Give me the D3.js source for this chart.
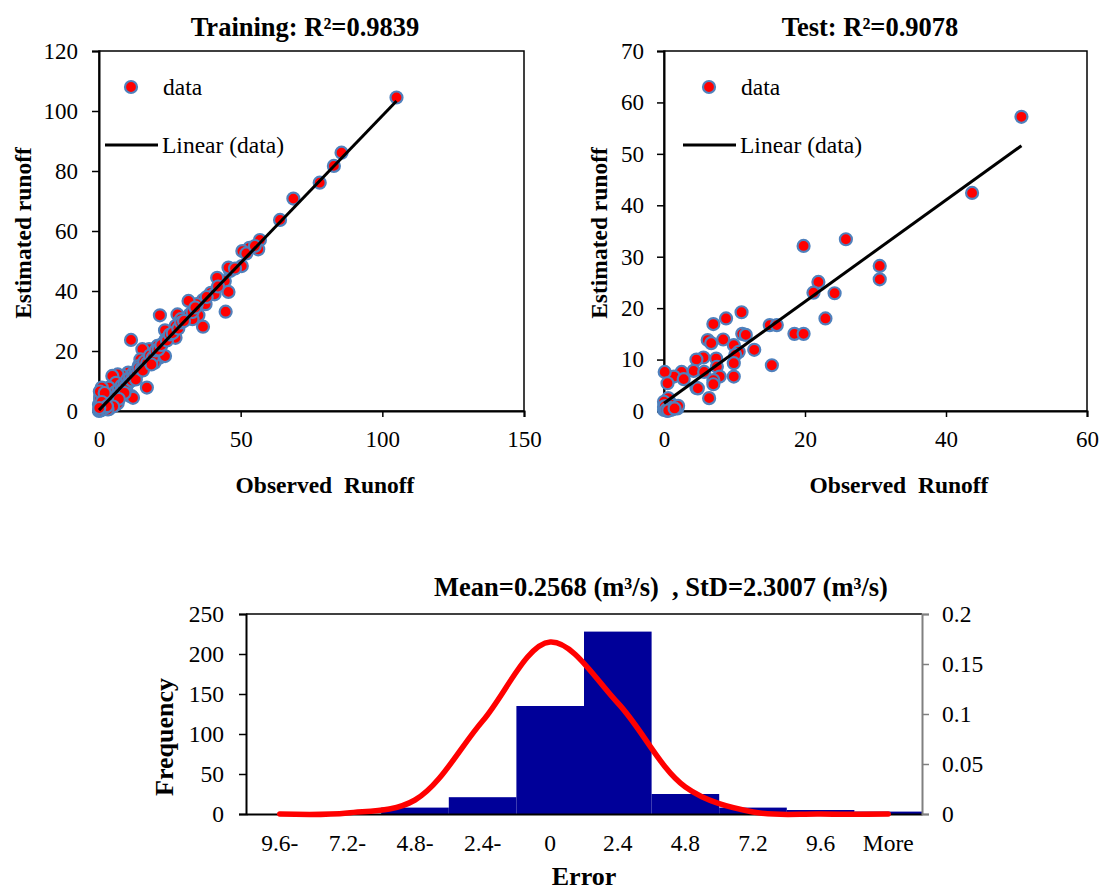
<!DOCTYPE html>
<html>
<head>
<meta charset="utf-8">
<script src="https://cdn.jsdelivr.net/npm/d3@7"></script>
<style>
  body { margin: 0; background: #fff; }
  svg { display: block; font-family: "Liberation Serif", "Times New Roman", serif; }
</style>
</head>
<body>
<svg id="chart" width="1106" height="890"></svg>
<script>
// training set: observed vs estimated runoff
const trainObs = [105, 85.6, 82.9, 77.9, 68.6, 63.9, 56.8, 56.2, 53.1, 50.6, 50.4, 46.3, 45.7, 44.4, 41.7, 45.7, 44.7,
  39.5, 40.8, 36.7, 37.6, 34.5, 35.1, 36.7, 31.6, 32, 33, 27.7, 28.9, 27, 27, 21.5, 23.3, 23.6, 22.1, 20.6, 19.6,
  21.5, 23.3, 19.6, 17.7, 15.3, 14.6, 14, 11.3, 16.9, 12.2, 10.3, 8.4, 6.6, 4.7, 6, 9.7, 11.5, 7.8, 3.5, 1, 0.4,
  4.7, 4.7, 2.2, 6, 0, 0, 1, 3.5, 0.4,
  0.2, 0.5, 0.8, 1.2, 1.5, 2, 2.5, 3, 3.5, 4, 4.5, 5, 5.5, 6, 6.5, 7, 7.5, 8, 8.5, 9, 9.5, 10, 10.5, 11, 11.5,
  12, 12.5, 13, 13.5, 14, 15, 16, 17, 18, 19, 20, 21, 22, 24, 25, 26, 28, 29, 30, 33, 34, 38, 42, 48, 52, 55,
  10.9, 12, 6.6, 9, 7, 5, 3, 1.5, 0.3, 2, 1, 0.6, 1.8, 2.8, 0.1, 13, 15.5, 18.5];
const trainEst = [104.5, 86.1, 81.7, 76.1, 70.8, 63.7, 57, 53.9, 54.4, 53.3, 48.3, 46.7, 47.8, 43.3, 44.4, 39.7, 33.1,
  39.4, 38.9, 37, 35.6, 35.6, 31.9, 28.1, 36.7, 32.2, 30.6, 32.2, 30.6, 28.3, 24.4, 31.9, 26.9, 23.9, 22.2, 21.7, 19.4,
  17.8, 18.3, 16.1, 20.6, 20.6, 17.2, 15, 23.7, 7.8, 10.6, 12.8, 11.7, 12.2, 11.7, 9.4, 8.3, 5, 6.7, 7.8, 7.8, 5,
  5.6, 2.8, 2.2, 2.2, 0, 2.2, 1.1, 0.6, 3.9,
  0.5, 1.2, 0.3, 1.8, 0.8, 2.5, 1.5, 3.2, 2.8, 4.5, 3.5, 5.2, 4.2, 6.5, 5.5, 7.2, 6.2, 8.5, 7.5, 9.2, 8.3, 10.5, 9.5, 11.2, 10.2,
  12.5, 11.8, 13.2, 12.5, 14.3, 14, 16.5, 16, 18.5, 17.8, 20.2, 20.5, 22, 23.5, 25.5, 26, 27.5, 29.5, 30, 33, 34.5, 38, 41.5, 47.5, 52.5, 55,
  5, 4.4, 2.6, 6, 4, 1.5, 0.5, 4.5, 6.5, 6, 3, 0.2, 0.9, 1.6, 1, 10.5, 13.5, 15.5];

// test set
const testObs = [50.7, 43.7, 25.8, 19.8, 30.6, 30.6, 21.9, 21.2, 24.2, 22.9, 11, 8.8, 7, 15, 16, 18.5, 19.8, 11.1, 11.6,
  8.4, 6.2, 6.7, 9.9, 12.8, 10.6, 10.1, 5.6, 4.6, 7.4, 9.9, 15.3, 4.2, 5.7, 7.5, 7.9, 9.9, 7, 7, 2.5, 1.4, 2.8, 0.1,
  0.5, 4.6, 6.4, 0.6, 1.6, 1.9, 0, 0.1, 0.3, 0.85, 0.5, 0, 0, 4.8, 1.2, 0.4,
  0.2, 0.4, 0.7, 1, 1.3, 0.1, 2, 0.3, 0.6, 1.5];
const testEst = [57.2, 42.4, 33.4, 32.1, 28.2, 25.6, 25.1, 23, 22.9, 18, 19.2, 18, 16.9, 16.7, 16.7, 15, 15, 15, 14.8,
  13.9, 13.8, 13.2, 12.8, 11.9, 11.5, 10.9, 10.4, 10, 10.2, 9.3, 8.9, 7.8, 7.6, 8.6, 6.7, 6.7, 6, 5.2, 7.6, 6.7, 6.2, 7.6,
  5.4, 4.5, 2.5, 2.5, 0.8, 0.5, 0.2, 1.5, 0.5, 0.3, 0, 1.8, 0.8, 4.4, 1.2, 0.9,
  0.3, 0.1, 0.6, 0.2, 0.4, 0.9, 1, 0.2, 0.1, 0.5];

// error histogram
const errBins = ["9.6-", "7.2-", "4.8-", "2.4-", "0", "2.4", "4.8", "7.2", "9.6", "More"];
const errFreq = [0, 0, 8, 21, 135, 228, 25, 8, 5, 3];
const errNorm = [0, 0.001, 0.014, 0.093, 0.172, 0.111, 0.027, 0.002, 0, 0];
const freqTicks = [0, 50, 100, 150, 200, 250];
const normTicks = [0, 0.05, 0.1, 0.15, 0.2];

const FONT = "Liberation Serif, Times New Roman, serif";
const svg = d3.select("#chart");

function fitLine(xs, ys) {
  const mx = d3.mean(xs), my = d3.mean(ys);
  let sxy = 0, sxx = 0;
  xs.forEach((x, i) => { sxy += (x - mx) * (ys[i] - my); sxx += (x - mx) * (x - mx); });
  const slope = sxy / sxx;
  const b = my - slope * mx;
  const x0 = d3.min(xs), x1 = d3.max(xs);
  return [[x0, b + slope * x0], [x1, b + slope * x1]];
}

function scatter(opt) {
  const g = svg.append("g");
  const x = d3.scaleLinear().domain(opt.xDomain).range([opt.left, opt.right]);
  const y = d3.scaleLinear().domain(opt.yDomain).range([opt.bottom, opt.top]);

  g.append("rect")
    .attr("x", opt.left).attr("y", opt.top)
    .attr("width", opt.right - opt.left).attr("height", opt.bottom - opt.top)
    .attr("fill", "none").attr("stroke", "#000").attr("stroke-width", 1.5);

  const xAxis = g.append("g")
    .attr("transform", `translate(0,${opt.bottom})`)
    .call(d3.axisBottom(x).tickValues(opt.xTicks).tickFormat(d => d).tickSize(6).tickPadding(14));
  const yAxis = g.append("g")
    .attr("transform", `translate(${opt.left},0)`)
    .call(d3.axisLeft(y).tickValues(opt.yTicks).tickFormat(d => d).tickSize(7).tickPadding(opt.yPad));
  [xAxis, yAxis].forEach(a => {
    a.attr("font-family", FONT).attr("font-size", 23);
    a.selectAll("text").attr("fill", "#000");
    a.selectAll("line").attr("stroke", "#000").attr("stroke-width", 1.5);
    a.select(".domain").attr("stroke", "#000").attr("stroke-width", 2);
  });

  const fit = fitLine(opt.obs, opt.est);

  const pts = opt.obs.map((v, i) => [v, opt.est[i]]);
  g.append("g").selectAll("circle")
    .data(pts)
    .join("circle")
    .attr("cx", d => x(d[0]))
    .attr("cy", d => y(d[1]))
    .attr("r", 6)
    .attr("fill", "#ff0000")
    .attr("stroke", "#4f81bd")
    .attr("stroke-width", 2.2);

  g.append("path")
    .datum(fit)
    .attr("fill", "none")
    .attr("stroke", "#000")
    .attr("stroke-width", 3)
    .attr("d", d3.line().x(d => x(d[0])).y(d => y(d[1])));

  // legend
  const lg = g.append("g").attr("font-size", 23.5);
  lg.append("circle").attr("cx", opt.legX + 26).attr("cy", 87).attr("r", 6)
    .attr("fill", "#ff0000").attr("stroke", "#4f81bd").attr("stroke-width", 2.2);
  lg.append("text").attr("x", opt.legX + 58).attr("y", 95).text("data");
  lg.append("line").attr("x1", opt.legX).attr("x2", opt.legX + 53).attr("y1", 145).attr("y2", 145)
    .attr("stroke", "#000").attr("stroke-width", 3);
  lg.append("text").attr("x", opt.legX + 57).attr("y", 153).text("Linear (data)");

  g.append("text")
    .attr("x", opt.titleX).attr("y", 36)
    .attr("text-anchor", "middle").attr("font-weight", "bold").attr("font-size", 26.5)
    .text(opt.title);
  g.append("text")
    .attr("x", opt.xLabelX).attr("y", 493)
    .attr("text-anchor", "middle").attr("font-weight", "bold").attr("font-size", 23.5)
    .text("Observed\u00a0\u00a0Runoff");
  g.append("text")
    .attr("transform", `translate(${opt.yLabelX},233)rotate(-90)`)
    .attr("text-anchor", "middle").attr("font-weight", "bold").attr("font-size", 23.5)
    .text("Estimated runoff");
}

scatter({
  obs: trainObs, est: trainEst,
  xDomain: [0, 150], yDomain: [0, 120],
  xTicks: [0, 50, 100, 150], yTicks: [0, 20, 40, 60, 80, 100, 120],
  left: 99, right: 524, top: 51, bottom: 411, yPad: 14,
  legX: 105, title: "Training: R\u00b2=0.9839", titleX: 305, xLabelX: 325, yLabelX: 31
});

scatter({
  obs: testObs, est: testEst,
  xDomain: [0, 60], yDomain: [0, 70],
  xTicks: [0, 20, 40, 60], yTicks: [0, 10, 20, 30, 40, 50, 60, 70],
  left: 664, right: 1087, top: 51, bottom: 411, yPad: 13,
  legX: 683, title: "Test: R\u00b2=0.9078", titleX: 870, xLabelX: 899, yLabelX: 607
});

// ---- histogram of errors ----
const hm = {left: 246, right: 922, top: 614, bottom: 814};
const hx = d3.scaleBand().domain(errBins).range([hm.left, hm.right]).padding(0);
const hy = d3.scaleLinear().domain([0, 250]).range([hm.bottom, hm.top]);
const hy2 = d3.scaleLinear().domain([0, 0.2]).range([hm.bottom, hm.top]);
const hg = svg.append("g");

hg.append("g").selectAll("rect")
  .data(errFreq)
  .join("rect")
  .attr("x", (d, i) => hx(errBins[i]))
  .attr("width", hx.bandwidth())
  .attr("y", d => hy(d))
  .attr("height", d => hy(0) - hy(d))
  .attr("fill", "#000099");

hg.append("line")
  .attr("x1", hm.left).attr("x2", hm.right).attr("y1", hm.top).attr("y2", hm.top)
  .attr("stroke", "#000").attr("stroke-width", 1.5);

const hxAxis = hg.append("g")
  .attr("transform", `translate(0,${hm.bottom})`)
  .call(d3.axisBottom(hx).tickSize(0).tickPadding(20));
const hyAxis = hg.append("g")
  .attr("transform", `translate(${hm.left},0)`)
  .call(d3.axisLeft(hy).tickValues(freqTicks).tickFormat(d => d).tickSize(7).tickPadding(15));
const hy2Axis = hg.append("g")
  .attr("transform", `translate(${hm.right},0)`)
  .call(d3.axisRight(hy2).tickValues(normTicks).tickFormat(d => String(d)).tickSize(7).tickPadding(13));
[hxAxis, hyAxis, hy2Axis].forEach(a => {
  a.attr("font-family", FONT).attr("font-size", 23.5);
  a.selectAll("text").attr("fill", "#000");
  a.selectAll("line").attr("stroke", "#000").attr("stroke-width", 1.5);
  a.select(".domain").attr("stroke", "#000").attr("stroke-width", 2);
});
hy2Axis.selectAll("line").attr("stroke", "#808080");
hy2Axis.select(".domain").attr("stroke", "#808080");

hg.append("path")
  .datum(errNorm)
  .attr("fill", "none")
  .attr("stroke", "#ff0000")
  .attr("stroke-width", 5.5)
  .attr("stroke-linecap", "round")
  .attr("d", d3.line()
    .x((d, i) => hx(errBins[i]) + hx.bandwidth() / 2)
    .y(d => hy2(d))
    .curve(d3.curveCatmullRom));

hg.append("text")
  .attr("x", 661).attr("y", 596)
  .attr("text-anchor", "middle").attr("font-weight", "bold").attr("font-size", 26.5)
  .text("Mean=0.2568 (m\u00b3/s)\u00a0\u00a0, StD=2.3007 (m\u00b3/s)");
hg.append("text")
  .attr("x", 584).attr("y", 885)
  .attr("text-anchor", "middle").attr("font-weight", "bold").attr("font-size", 26)
  .text("Error");
hg.append("text")
  .attr("transform", "translate(173,737)rotate(-90)")
  .attr("text-anchor", "middle").attr("font-weight", "bold").attr("font-size", 26)
  .text("Frequency");
</script>
</body>
</html>
